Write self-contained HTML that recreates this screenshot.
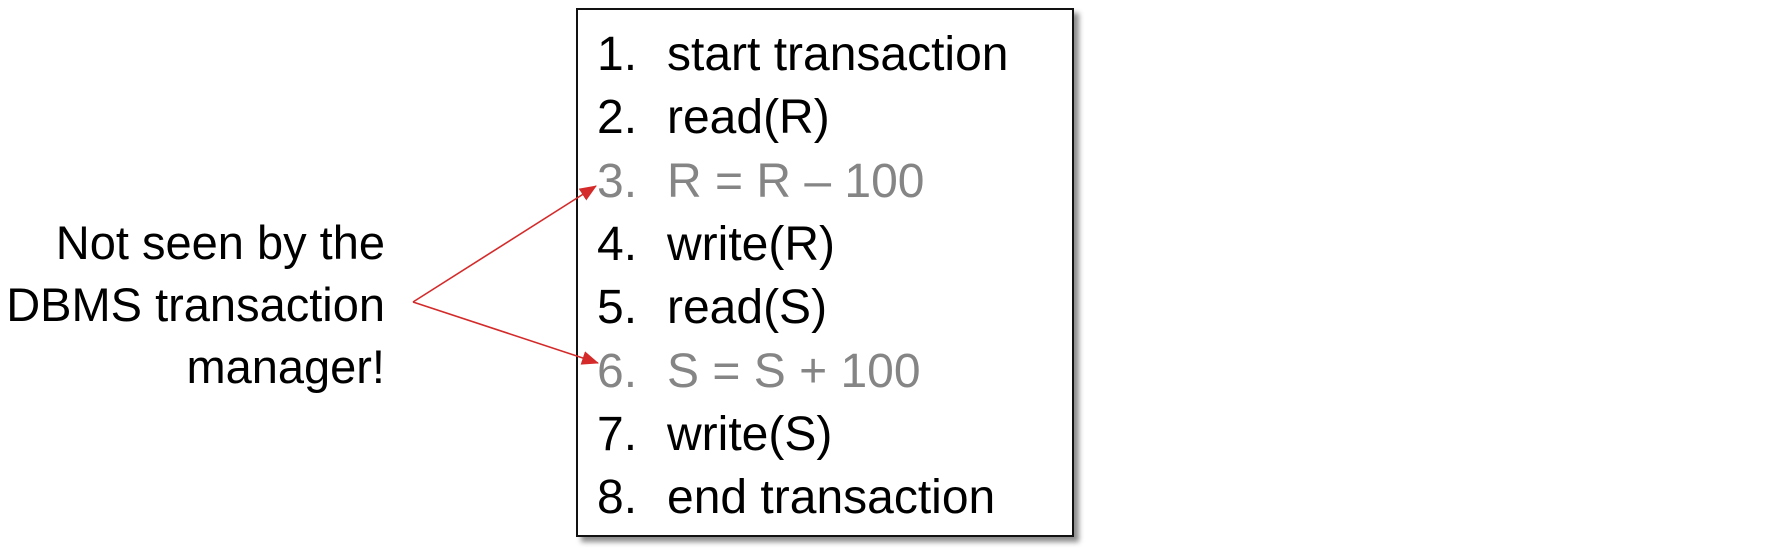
<!DOCTYPE html>
<html><head><style>
body{margin:0;width:1771px;height:551px;background:#fff;position:relative;overflow:hidden;font-family:"Liberation Sans",sans-serif;}
.box{position:absolute;left:576px;top:8px;width:494px;height:525px;border:2px solid #111;box-shadow:5px 5px 5px rgba(0,0,0,0.45);background:#fff;}
.l{position:absolute;font-size:48px;line-height:1;white-space:nowrap;color:#000;}
.g{color:#858585;}
.n{position:absolute;left:597px;}
.t{position:absolute;left:667px;}
.lt{position:absolute;right:1386px;font-size:47px;line-height:1;white-space:nowrap;text-align:right;}
</style></head><body>
<div class="box"></div>
<div class="l" style="top:31px"><span class="n">1.</span><span class="t">start transaction</span></div>
<div class="l" style="top:94px"><span class="n">2.</span><span class="t">read(R)</span></div>
<div class="l g" style="top:158px"><span class="n">3.</span><span class="t">R = R – 100</span></div>
<div class="l" style="top:221px"><span class="n">4.</span><span class="t">write(R)</span></div>
<div class="l" style="top:284px"><span class="n">5.</span><span class="t">read(S)</span></div>
<div class="l g" style="top:348px"><span class="n">6.</span><span class="t">S = S + 100</span></div>
<div class="l" style="top:411px"><span class="n">7.</span><span class="t">write(S)</span></div>
<div class="l" style="top:474px"><span class="n">8.</span><span class="t">end transaction</span></div>
<div class="lt" style="top:219px">Not seen by the</div>
<div class="lt" style="top:281px">DBMS transaction</div>
<div class="lt" style="top:343px">manager!</div>
<svg width="1771" height="551" style="position:absolute;left:0;top:0">
<defs><marker id="b" markerWidth="18" markerHeight="14" refX="16" refY="7" orient="auto" markerUnits="userSpaceOnUse"><path d="M0,0 L17,7 L0,14z" fill="#d42a2a"/></marker></defs>
<line x1="413" y1="302" x2="596" y2="186" stroke="#d42a2a" stroke-width="1.6" marker-end="url(#b)"/>
<line x1="413" y1="302" x2="598" y2="363" stroke="#d42a2a" stroke-width="1.6" marker-end="url(#b)"/>
</svg>
</body></html>
